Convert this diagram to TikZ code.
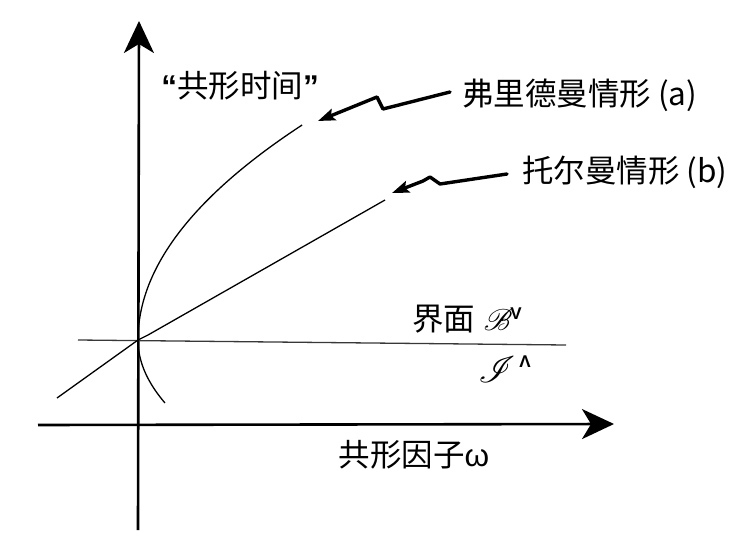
\documentclass[tikz,border=0pt]{standalone}
\usepackage{fontspec}
\usepackage{mathrsfs}
\usetikzlibrary{arrows.meta}
\newfontfamily\cjk{Noto Sans CJK SC}
\newfontfamily\lat{Liberation Sans}
\begin{document}
\begin{tikzpicture}[x=1pt,y=-1pt,
  lbl/.style={font=\cjk\fontsize{31.5}{33}\selectfont, inner sep=0pt},
  scr/.style={inner sep=0pt},
  sup/.style={font=\lat\bfseries\fontsize{17}{18}\selectfont, inner sep=0pt},
  axis/.style={line width=2.6pt, -{Stealth[length=32pt,width=30pt,inset=9pt]}},
  curve/.style={line width=1.3pt},
  zig/.style={line width=3.4pt, line cap=round, line join=round, -{Stealth[length=17pt,width=12pt,inset=3pt]}},
  iface/.style={line width=1.3pt, black!78}]
\useasboundingbox (0,0) rectangle (743,540);
% axes
\coordinate (vb) at (138,530);
\coordinate (vt) at (139,21);
\coordinate (hl) at (38,425);
\coordinate (hr) at (614,424);
\draw[axis] (vb) -- (vt);
\draw[axis] (hl) -- (hr);
% interface line
\coordinate (il) at (78,340);
\coordinate (ir) at (566,345);
\draw[iface] (il) -- (ir);
% curve (a)
\draw[curve] plot[domain=0:21.5, samples=60] ({138+0.355*(\x)^2},{340-10*\x});
\draw[curve] plot[domain=0:6.3, samples=30] ({138+0.68*(\x)^2},{340+10*\x});
\coordinate (ea) at (302,125);
% curve (b)
\coordinate (b0) at (57,398);
\coordinate (o) at (138,340);
\coordinate (eb) at (385,200);
\draw[curve] (b0) -- (o) -- (148,335) -- (eb);
% labels
\node[lbl, anchor=center] (ct) at (240,86) {{\lat\bfseries “}共形时间{\lat\bfseries ”}};
\node[lbl, anchor=west] (la) at (462,95) {弗里德曼情形 (a)};
\node[lbl, anchor=west] (lb) at (522,172) {托尔曼情形 (b)};
\node[lbl, anchor=west] (lB) at (412,319) {界面};
\node[scr, anchor=center] (sB) at (498,320) {\scalebox{3.0}{$\mathscr{B}$}};
\node[sup, anchor=center] (vB) at (516,314) {V};
\node[scr, anchor=center] (sI) at (497,370) {\scalebox{3.7}{$\mathscr{I}$}};
\node[sup, anchor=center] (wI) at (525,362) {Λ};
\node[lbl, anchor=center] (lw) at (414,455) {共形因子{\lat ω}};
% zigzag arrows
\coordinate (ta) at (318,121);
\coordinate (tb) at (392,193);
\draw[zig] (la.west) ++(-12,-3) -- (383,109) -- (377,97) -- (ta);
\draw[zig] (lb.west) ++(-15,2) -- (440,184) -- (430,177) -- (423,181) -- (tb);
\end{tikzpicture}
\end{document}
